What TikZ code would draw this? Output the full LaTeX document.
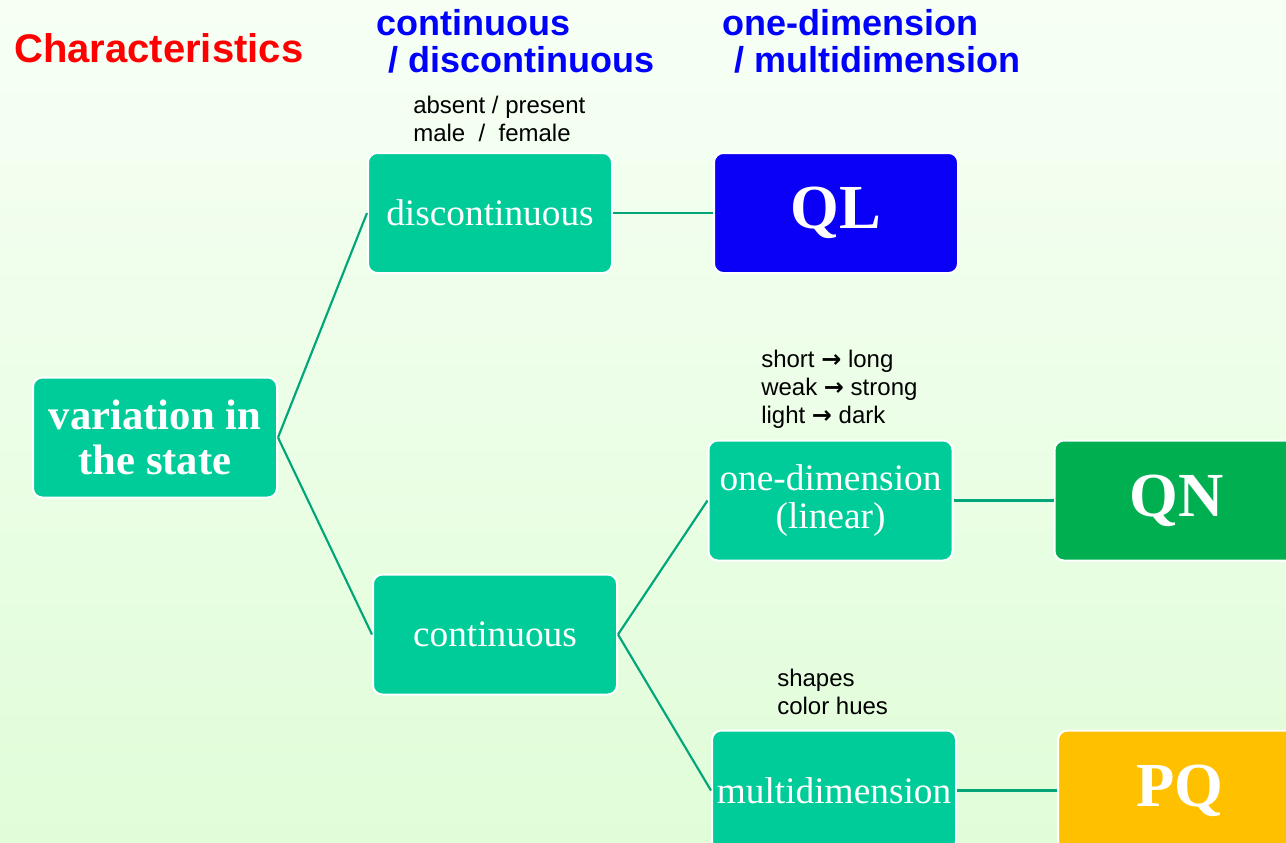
\documentclass[tikz,border=0pt]{standalone}
\usepackage{fontspec}
\setmainfont{Liberation Serif}
\setsansfont{Liberation Sans}
\newfontfamily\arrowfont{DejaVu Sans}
\usepackage{tikz}
\usetikzlibrary{positioning}
\definecolor{boxteal}  {RGB}{0,204,153}
\definecolor{linkteal} {RGB}{0,165,120}
\definecolor{qlblue}   {RGB}{10,0,245}
\definecolor{qngreen}  {RGB}{0,176,80}
\definecolor{pqyellow} {RGB}{255,192,0}
\definecolor{headblue} {RGB}{0,0,255}
\definecolor{titlered} {RGB}{255,0,0}
\definecolor{bgtop}    {RGB}{247,255,245}
\definecolor{bgbottom} {RGB}{224,253,216}
\newcommand{\towards}{{\arrowfont\bfseries →}}

\begin{document}
\begin{tikzpicture}[
  x=0.75pt, y=-0.75pt,
  stagebox/.style={rectangle, rounded corners=7pt, draw=white,
    line width=1.5pt, fill=boxteal, text=white, inner sep=0pt,
    minimum width=183pt, minimum height=90pt, align=center,
    font=\fontsize{28}{29}\selectfont},
  rootbox/.style={stagebox, font=\bfseries\fontsize{32}{34}\selectfont},
  classbox/.style={stagebox, font=\bfseries\fontsize{47}{50}\selectfont},
  note/.style={anchor=base west, inner sep=0pt, align=left,
    font=\sffamily\fontsize{18}{21}\selectfont},
  heading/.style={anchor=base west, inner sep=0pt, align=left, text=headblue,
    font=\sffamily\bfseries\fontsize{27}{27.75}\selectfont},
  link/.style={line width=1.6pt, color=linkteal},
]
\useasboundingbox (0,0) rectangle (1286,843);
\clip (0,0) rectangle (1286,843);
\shade[top color=bgtop, bottom color=bgbottom] (0,0) rectangle (1286,843);

% Headings (multi-line nodes sit on their last baseline)
\node[anchor=base west, inner sep=0pt, text=titlered,
      font=\sffamily\bfseries\fontsize{30}{31}\selectfont] (title) at (14,62)
  {Characteristics};
\node[heading] (headcont) at (376,72)
  {continuous\\\hspace*{9pt}/ discontinuous};
\node[heading] (headdim) at (722,72)
  {one-dimension\\\hspace*{9pt}/ multidimension};

% Tree
\node[rootbox]  (state) at (155,437.5) {variation in\\the state};
\node[stagebox] (discont) at (490,213) {discontinuous};
\node[stagebox] (cont)    at (495,634.5) {continuous};
\node[stagebox] (onedim)  at (830.5,500.5) {one-dimension\\(linear)};
\node[stagebox] (multidim) at (834,790.5) {multidimension};

\node[classbox, fill=qlblue,   right=75pt of discont]  (ql) {QL};
\node[classbox, fill=qngreen,  right=75pt of onedim]   (qn) {QN};
\node[classbox, fill=pqyellow, right=75pt of multidim] (pq) {PQ};

% Examples
\node[note] (exdiscont) at (413,141) {absent / present\\male~~/~~female};
\node[note] (exonedim)  at (761,423)
  {short \towards{} long\\weak \towards{} strong\\light \towards{} dark};
\node[note] (exmulti)   at (777,714) {shapes\\color hues};

% Links
\draw[link] (state.east) -- (discont.west);
\draw[link] (state.east) -- (cont.west);
\draw[link] (cont.east)  -- (onedim.west);
\draw[link] (cont.east)  -- (multidim.west);
\draw[link] (discont)  -- (ql);
\draw[link] (onedim)   -- (qn);
\draw[link] (multidim) -- (pq);

\end{tikzpicture}
\end{document}
